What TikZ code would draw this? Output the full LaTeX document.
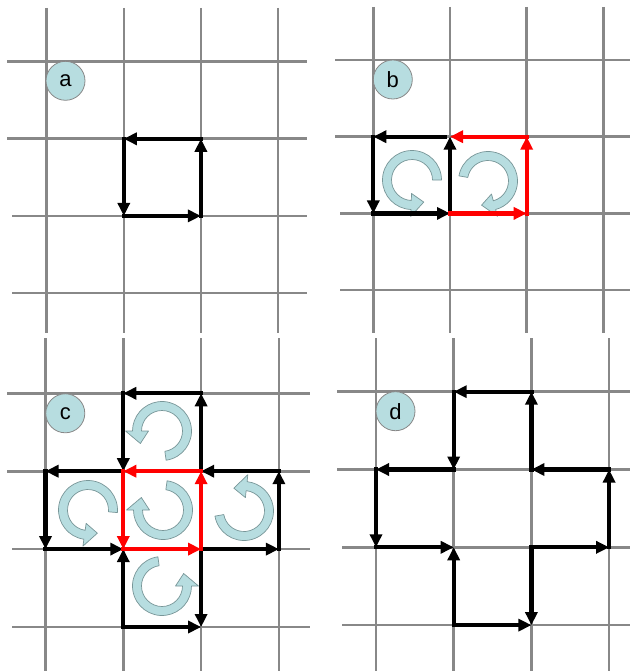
\documentclass[tikz,border=0pt]{standalone}
\usepackage{fontspec}
\setmainfont{Liberation Sans}
\usetikzlibrary{arrows.meta,calc}
\definecolor{gridgray}{RGB}{136,136,136}
\definecolor{lblue}{RGB}{183,221,224}
\definecolor{arcedge}{RGB}{120,150,152}
\definecolor{pred}{RGB}{255,0,0}
\tikzset{
  gridline/.style={gridgray, line width=2.6pt},
  edgeblk/.style={black, line width=4.2pt, line cap=rect, -{Triangle[length=13pt,width=12pt]}},
  edgered/.style={edgeblk, pred},
  carrowshape/.style={fill=lblue, draw=arcedge, line width=0.7pt, line join=round},
  panellabel/.style={circle, fill=lblue, draw=gridgray, line width=0.8pt, minimum size=39pt, inner sep=0pt, font=\fontsize{22}{24}\selectfont},
}
\newcommand{\carw}[4]{%
  \coordinate (#1) at #2;
  \pgfmathsetmacro{\cdd}{ifthenelse(#4>#3,30,-30)}
  \filldraw[carrowshape] ($(#1)+(#3:29.5pt)$) arc[start angle=#3, end angle=#4, radius=29.5pt]
    -- ($(#1)+(#4:36.5pt)$) -- ($(#1)+({#4+\cdd}:25pt)$) -- ($(#1)+(#4:13.5pt)$)
    -- ($(#1)+(#4:20.5pt)$) arc[start angle=#4, end angle=#3, radius=20.5pt] -- cycle;
}
\begin{document}
\begin{tikzpicture}[x=1pt,y=1pt]
\useasboundingbox (0,0) rectangle (630,-671);
\fill[white] (0,0) rectangle (630,-671);

% ---------- grids ----------
% panel a
\foreach \i in {0,...,3}{\draw[gridline] ({46.7+\i*77.1},-8) -- ({46.7+\i*77.1},-333);}
\draw[gridline] (7,-61.7) -- (307,-61.7);
\draw[gridline] (7,-138.8) -- (307,-138.8);
\draw[gridline] (12,-215.9) -- (307,-215.9);
\draw[gridline] (12,-293) -- (307,-293);
% panel b
\foreach \i in {0,...,3}{\draw[gridline] ({373.3+\i*76.7},-7) -- ({373.3+\i*76.7},-333);}
\draw[gridline] (335,-60) -- (630,-60);
\draw[gridline] (335,-136.7) -- (630,-136.7);
\draw[gridline] (340,-213.4) -- (630,-213.4);
\draw[gridline] (340,-290.1) -- (630,-290.1);
% panel c
\foreach \i in {0,...,3}{\draw[gridline] ({45.5+\i*77.8},-338) -- ({45.5+\i*77.8},-671);}
\draw[gridline] (7,-393.3) -- (310,-393.3);
\draw[gridline] (7,-471.3) -- (310,-471.3);
\draw[gridline] (12,-549.1) -- (310,-549.1);
\draw[gridline] (12,-627.1) -- (310,-627.1);
% panel d
\foreach \i in {0,...,3}{\draw[gridline] ({376+\i*77.7},-338) -- ({376+\i*77.7},-671);}
\draw[gridline] (337,-391.7) -- (630,-391.7);
\draw[gridline] (337,-469.5) -- (630,-469.5);
\draw[gridline] (342,-547.3) -- (630,-547.3);
\draw[gridline] (342,-625.1) -- (630,-625.1);

% ---------- grid point coordinates ----------
\foreach \i in {0,...,3}{\foreach \j in {0,...,3}{
  \coordinate (a\i\j) at ({46.7+\i*77.1},{-(61.7+\j*77.1)});
  \coordinate (b\i\j) at ({373.3+\i*76.7},{-(60+\j*76.7)});
  \coordinate (c\i\j) at ({45.5+\i*77.8},{-(393.3+\j*77.9)});
  \coordinate (d\i\j) at ({376+\i*77.7},{-(391.7+\j*77.8)});
}}

% ---------- labels ----------
\node[panellabel] (la) at (65.5,-80.8) {a};
\node[panellabel] (lb) at (392.8,-79.5) {b};
\node[panellabel] (lc) at (65.3,-413.3) {c};
\node[panellabel] (ld) at (395.5,-411.2) {d};

% ---------- circular arrows ----------
\carw{rb1}{(412,-180)}{0}{268}
\carw{rb2}{(488,-181)}{170}{-75}
\carw{rc1}{(162,-431)}{-82}{180}
\carw{rc2}{(88,-510)}{-5}{262}
\carw{rc3}{(163,-510)}{82}{-180}
\carw{rc4}{(244,-511)}{190}{444}
\carw{rc5}{(162,-586)}{98}{360}

% ---------- panel a ----------
\draw[edgeblk] (a11) -- (a12);
\draw[edgeblk] (a12) -- (a22);
\draw[edgeblk] (a22) -- (a21);
\draw[edgeblk] (a21) -- (a11);

% ---------- panel b ----------
\draw[edgeblk, shorten <=5pt] (b11) -- (b01);
\draw[edgeblk] (b01) -- (b02);
\draw[edgeblk] (b02) -- (b12);
\draw[edgeblk] (b12) -- (b11);
\draw[edgered] (b12) -- (b22);
\draw[edgered] (b22) -- (b21);
\draw[edgered] (b21) -- (b11);

% ---------- panel c ----------
\draw[edgeblk] (c20) -- (c10);
\draw[edgeblk] (c10) -- (c11);
\draw[edgeblk] (c21) -- (c20);
\draw[edgeblk] (c11) -- (c01);
\draw[edgeblk] (c01) -- (c02);
\draw[edgeblk] (c02) -- (c12);
\draw[edgeblk] (c31) -- (c21);
\draw[edgeblk] (c32) -- (c31);
\draw[edgeblk, shorten <=4pt] (c22) -- (c32);
\draw[edgeblk] (c13) -- (c12);
\draw[edgeblk] (c13) -- (c23);
\draw[edgeblk] (c22) -- (c23);
\draw[edgered] (c21) -- (c11);
\draw[edgered] (c11) -- (c12);
\draw[edgered] (c12) -- (c22);
\draw[edgered] (c22) -- (c21);

% ---------- panel d ----------
\draw[edgeblk] (d20) -- (d10);
\draw[edgeblk] (d10) -- (d11);
\draw[edgeblk] (d11) -- (d01);
\draw[edgeblk] (d01) -- (d02);
\draw[edgeblk] (d02) -- (d12);
\draw[edgeblk] (d13) -- (d12);
\draw[edgeblk] (d13) -- (d23);
\draw[edgeblk] (d22) -- (d23);
\draw[edgeblk, shorten <=5pt] (d22) -- (d32);
\draw[edgeblk] (d32) -- (d31);
\draw[edgeblk] (d31) -- (d21);
\draw[edgeblk] (d21) -- (d20);
\end{tikzpicture}
\end{document}
